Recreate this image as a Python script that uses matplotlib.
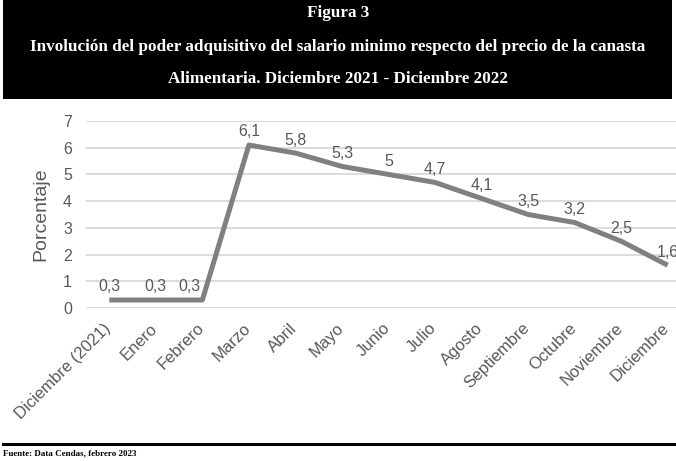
import matplotlib.pyplot as plt
import matplotlib.transforms as mtransforms
from matplotlib.patches import Rectangle
from matplotlib.lines import Line2D

meses = ["Diciembre (2021)", "Enero", "Febrero", "Marzo", "Abril", "Mayo", "Junio",
         "Julio", "Agosto", "Septiembre", "Octubre", "Noviembre", "Diciembre"]
valores = [0.3, 0.3, 0.3, 6.1, 5.8, 5.3, 5.0, 4.7, 4.1, 3.5, 3.2, 2.5, 1.6]
etiquetas = ["0,3", "0,3", "0,3", "6,1", "5,8", "5,3", "5", "4,7", "4,1", "3,5", "3,2", "2,5", "1,6"]

titulo = ["Figura 3",
          "Involución del poder adquisitivo del salario minimo respecto del precio de la canasta",
          "Alimentaria. Diciembre 2021 - Diciembre 2022"]
fuente = "Fuente: Data Cendas, febrero 2023"

W, H = 676, 461
fig = plt.figure(figsize=(W / 100, H / 100), dpi=100)

gris = "#595959"
sans = "Liberation Sans"
serif = "Liberation Serif"

# header box
fig.patches.append(Rectangle((3 / W, 1 - 99 / H), 669 / W, 99 / H, transform=fig.transFigure,
                             facecolor="black", edgecolor="none", zorder=0))
for txt, yy in zip(titulo, [13, 47, 79]):
    fig.text(0.5, 1 - yy / H, txt, color="white", ha="center", va="center",
             fontsize=12.3, fontweight="bold", family=serif)

# footer
fig.lines.append(Line2D([3 / W, 1], [1 - 444 / H] * 2, transform=fig.transFigure,
                        color="black", lw=2.2))
fig.text(3 / W, 1 - 453 / H, fuente, ha="left", va="center", fontsize=6.5,
         fontweight="bold", family=serif)

# plot area: x from 86 to 691 px, y 0 at 308, 7 at 121
left, right = 86, 691
y0, y7 = 308, 121
ax = fig.add_axes([left / W, 1 - y0 / H, (right - left) / W, (y0 - y7) / H])
x = list(range(len(meses)))
ax.plot(x, valores, color="#808080", lw=3.6, solid_capstyle="butt", solid_joinstyle="round", zorder=3)
for xi, v, lab in zip(x, valores, etiquetas):
    dx = -9 if xi == 2 else 0
    ax.annotate(lab, (xi, v), xytext=(dx, 4), textcoords="offset points", ha="center",
                va="bottom", fontsize=11.5, color=gris, family=sans, annotation_clip=False)

ax.set_xlim(-0.5, len(meses) - 0.5)
ax.set_ylim(0, 7)
ax.set_yticks(range(0, 8))
ax.grid(axis="y", color="#d9d9d9", lw=1.3)
ax.set_axisbelow(True)
for s in ax.spines.values():
    s.set_visible(False)
ax.tick_params(axis="y", length=0, colors=gris, labelsize=11.5, pad=10)
ax.tick_params(axis="x", length=0, colors=gris, labelsize=12, pad=9)
ax.set_xticks(x)
ax.set_xticklabels(meses, rotation=45, ha="right", va="top", rotation_mode="anchor", family=sans)
shift = mtransforms.ScaledTranslation(-6 / 100, 0, fig.dpi_scale_trans)
for t in ax.get_xticklabels():
    t.set_transform(t.get_transform() + shift)
for t in ax.get_yticklabels():
    t.set_family(sans)
ax.set_ylabel("Porcentaje", fontsize=14, color=gris, family=sans, labelpad=10)

fig.savefig("out.png", dpi=100)
